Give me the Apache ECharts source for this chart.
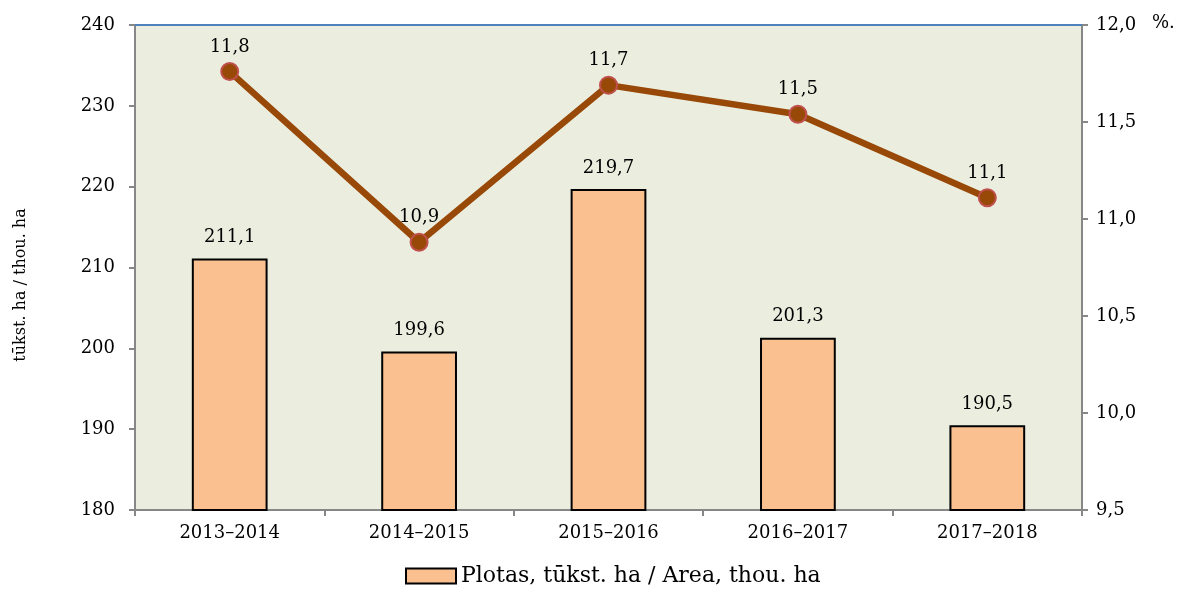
<!DOCTYPE html>
<html>
<head>
<meta charset="utf-8">
<script src="https://cdn.jsdelivr.net/npm/echarts@6/dist/echarts.min.js"></script>
<style>
  html, body { margin: 0; padding: 0; background: #fff; }
  #chart { width: 1177px; height: 594px; }
</style>
</head>
<body>
<div id="chart"></div>
<script>
const years = ['2013–2014', '2014–2015', '2015–2016', '2016–2017', '2017–2018'];
const area = [211.1, 199.6, 219.7, 201.3, 190.5];
const share = [11.76, 10.88, 11.69, 11.54, 11.11];

const font = 'DejaVu Serif';
const comma = (v, d) => v.toFixed(d).replace('.', ',');

const chart = echarts.init(document.getElementById('chart'));
chart.setOption({
    animation: false,
    textStyle: { fontFamily: font },
    grid: {
        left: 135,
        right: 95,
        top: 25,
        bottom: 84,
        outerBoundsMode: 'none',
        containLabel: false,
        show: true,
        backgroundColor: '#EBEEDF',
        borderWidth: 0
    },
    legend: {
        bottom: 2,
        left: 400,
        data: ['Plotas, tūkst. ha / Area, thou. ha'],
        icon: 'rect',
        itemWidth: 50,
        itemHeight: 15,
        itemGap: 4,
        itemStyle: { borderColor: '#000', borderWidth: 2 },
        textStyle: { fontFamily: font, fontSize: 22, color: '#000' }
    },
    graphic: [
        {
            type: 'text',
            left: 1152,
            top: 14,
            style: { text: '%.', font: '18px "DejaVu Serif"', fill: '#000' }
        },
        {
            type: 'text',
            x: 21,
            y: 285,
            rotation: Math.PI / 2,
            style: {
                text: 'tūkst. ha / thou. ha',
                font: '16px "DejaVu Serif"',
                fill: '#000',
                align: 'center',
                verticalAlign: 'middle'
            }
        },
        {
            type: 'line',
            shape: { x1: 135, y1: 25, x2: 1082, y2: 25 },
            style: { stroke: '#4F81BD', lineWidth: 2 },
            z: 10
        }
    ],
    xAxis: {
        type: 'category',
        data: years,
        boundaryGap: true,
        axisLine: { lineStyle: { color: '#878787', width: 2 } },
        axisTick: { show: true, length: 6, lineStyle: { color: '#878787', width: 2 } },
        axisLabel: { color: '#000', fontSize: 18, fontFamily: font, margin: 14 }
    },
    yAxis: [
        {
            type: 'value',
            min: 180,
            max: 240,
            interval: 10,
            splitLine: { show: false },
            axisLine: { show: true, lineStyle: { color: '#878787', width: 2 } },
            axisTick: { show: true, length: 6, lineStyle: { color: '#878787', width: 2 } },
            axisLabel: { color: '#000', fontSize: 18, fontFamily: font, margin: 20 }
        },
        {
            type: 'value',
            min: 9.5,
            max: 12,
            interval: 0.5,
            position: 'right',
            splitLine: { show: false },
            axisLine: { show: true, lineStyle: { color: '#878787', width: 2 } },
            axisTick: { show: true, length: 6, lineStyle: { color: '#878787', width: 2 } },
            axisLabel: { color: '#000', fontSize: 18, fontFamily: font, margin: 14, formatter: v => comma(v, 1) }
        }
    ],
    series: [
        {
            name: 'Plotas, tūkst. ha / Area, thou. ha',
            type: 'bar',
            data: area,
            barWidth: '40%',
            itemStyle: { color: '#FAC090', borderColor: '#000', borderWidth: 2 },
            label: {
                show: true,
                position: 'top',
                distance: 12,
                color: '#000',
                fontSize: 18,
                fontFamily: font,
                formatter: p => comma(p.value, 1)
            }
        },
        {
            name: 'share',
            type: 'line',
            yAxisIndex: 1,
            data: share,
            symbol: 'circle',
            symbolSize: 17,
            lineStyle: { color: '#984807', width: 6.5 },
            itemStyle: { color: '#984807', borderColor: '#C0504D', borderWidth: 2 },
            label: {
                show: true,
                position: 'top',
                distance: 6,
                color: '#000',
                fontSize: 18,
                fontFamily: font,
                formatter: p => comma(p.value, 1)
            },
            z: 5
        }
    ]
});
</script>
</body>
</html>
